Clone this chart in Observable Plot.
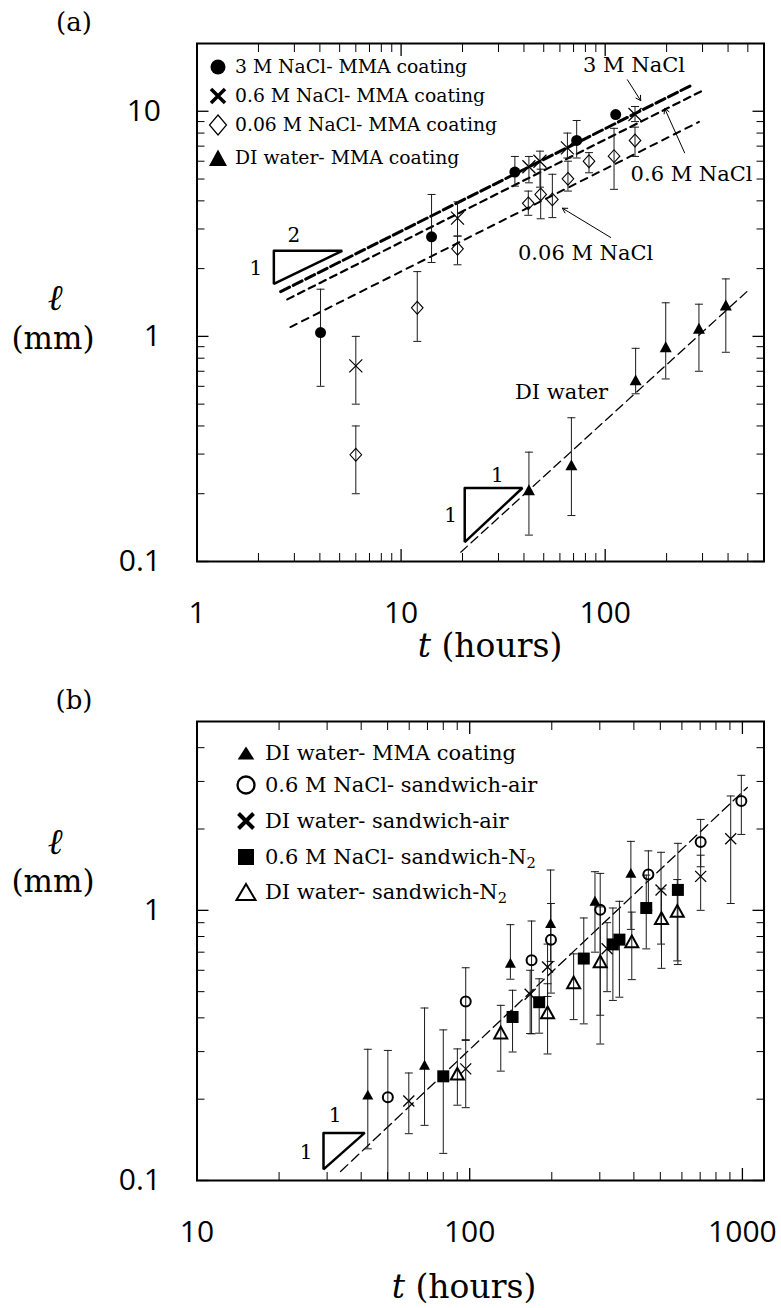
<!DOCTYPE html>
<html><head><meta charset="utf-8">
<script src="https://cdn.jsdelivr.net/npm/d3@7"></script>
<script src="https://cdn.jsdelivr.net/npm/@observablehq/plot@0.6"></script>
<style>
body{margin:0;background:#fff;}
#wrap{position:relative;width:781px;height:1308px;overflow:hidden;background:#fff;}
.abs{position:absolute;white-space:nowrap;color:#000;font-family:"DejaVu Serif",serif;}
.ctr{transform:translate(-50%,-50%);}
.row{position:absolute;height:30px;line-height:30px;white-space:nowrap;font-family:"DejaVu Serif",serif;color:#000;}
.row sub{font-size:70%;vertical-align:-0.25em;line-height:0;}
.icon{position:absolute;}
</style></head><body><div id="wrap"></div>
<script>
// ================= DATA =================
// Panel (a): t (hours) and l (mm), with error bar ends
const aNaCl3_t  = [4.03, 14.1, 36.1, 72.5, 112.6];
const aNaCl3_l  = [1.04, 2.77, 5.37, 7.42, 9.67];
const aNaCl3_lo = [0.60, 2.13, 4.65, 6.2, null];
const aNaCl3_hi = [1.62, 4.27, 6.3, 9.1, null];

const aNaCl06_t  = [6.0, 18.9, 42.3, 47.9, 65.3, 140];
const aNaCl06_l  = [0.74, 3.35, 5.67, 6.0, 6.88, 9.67];
const aNaCl06_lo = [0.50, 2.79, 4.81, 4.6, 6.2, 9.0];
const aNaCl06_hi = [1.00, 3.96, 6.3, 6.65, 8.0, 10.5];

const aNaCl006_t  = [6.0, 12.0, 18.9, 42.0, 48.3, 55.1, 65.7, 83.3, 110.5, 140];
const aNaCl006_l  = [0.298, 1.34, 2.45, 3.90, 4.27, 4.06, 5.01, 6.0, 6.32, 7.42];
const aNaCl006_lo = [0.20, 0.95, 2.08, 3.45, 3.33, 3.37, 4.42, 5.33, 4.5, 6.3];
const aNaCl006_hi = [0.40, 1.94, 2.79, 4.42, 5.53, 5.25, 6.0, 6.55, 8.4, 8.5];

// DI water - MMA coating (shown in both panels)
const diMMA_t  = [42.3, 68.3, 141, 198, 288, 390];
const diMMA_l  = [0.207, 0.267, 0.637, 0.894, 1.08, 1.37];
const diMMA_lo = [0.131, 0.16, 0.556, 0.647, 0.70, 0.85];
const diMMA_hi = [0.306, 0.435, 0.885, 1.41, 1.39, 1.80];

// fitted power-law lines (end points)
const fitA3_t = [2.57, 267],  fitA3_l = [1.58, 13.1];
const fitA06_t = [2.77, 300], fitA06_l = [1.46, 12.35];
const fitA006_t = [2.87, 288], fitA006_l = [1.10, 8.97];
const fitADI_t = [19.6, 498], fitADI_l = [0.110, 1.59];

// slope triangles (vertices)
const triA2_t = [2.38, 5.15, 2.38, 2.38], triA2_l = [2.40, 2.40, 1.71, 2.40];
const triA1_t = [20.5, 39.3, 20.5, 20.5], triA1_l = [0.212, 0.212, 0.122, 0.212];

// Panel (b)
const bNaCl06air_t  = [50.1, 96.7, 168.6, 198.6, 301, 452, 703, 991];
const bNaCl06air_l  = [0.2035, 0.46, 0.653, 0.779, 1.006, 1.356, 1.79, 2.54];
const bNaCl06air_lo = [0.10, 0.33, 0.349, 0.494, 0.409, 1.0, 1.45, 1.91];
const bNaCl06air_hi = [0.303, 0.613, 0.913, 1.06, 1.37, 1.66, 2.17, 3.16];

const bDIair_t  = [59.8, 96.7, 166.6, 193, 319, 503, 703, 906];
const bDIair_l  = [0.197, 0.259, 0.489, 0.617, 0.721, 1.19, 1.336, 1.84];
const bDIair_lo = [0.149, 0.186, 0.35, 0.48, 0.5, 0.75, 1.0, 1.06];
const bDIair_hi = [0.25, 0.332, 0.6, 0.75, 0.9, 1.64, 1.6, 2.65];

const bNaCl06N2_t  = [80, 143.6, 179.8, 262, 335, 354, 444, 580];
const bNaCl06N2_l  = [0.243, 0.403, 0.457, 0.663, 0.748, 0.779, 1.02, 1.19];
const bNaCl06N2_lo = [0.126, 0.299, 0.351, 0.38, 0.464, 0.477, 0.72, 0.63];
const bNaCl06N2_hi = [0.361, 0.506, 0.558, 0.937, 1.02, 1.08, 1.35, 1.77];

const bDIN2_t  = [90.1, 130, 193, 240.5, 301, 393, 505, 577];
const bDIN2_l  = [0.247, 0.351, 0.417, 0.538, 0.644, 0.763, 0.93, 0.99];
const bDIN2_lo = [0.19, 0.254, 0.294, 0.394, 0.32, 0.554, 0.61, 0.65];
const bDIN2_hi = [0.307, 0.445, 0.535, 0.69, 1.03, 0.985, 1.2, 1.3];

const fitB_t = [33.6, 1042], fitB_l = [0.108, 2.85];
const triB_t = [29.1, 41.2, 29.1, 29.1], triB_l = [0.150, 0.150, 0.110, 0.150];

// axes
const aXdomain = [1, 600], aYdomain = [0.1, 20];
const bXdomain = [10, 1200], bYdomain = [0.1, 5];
const aXmajor = [1, 10, 100], aXminor = [2,3,4,5,6,7,8,9,20,30,40,50,60,70,80,90,200,300,400,500];
const aYmajor = [0.1, 1, 10], aYminor = [0.2,0.3,0.4,0.5,0.6,0.7,0.8,0.9,2,3,4,5,6,7,8,9];
const bXmajor = [10, 100, 1000], bXminor = [20,30,40,50,60,70,80,90,200,300,400,500,600,700,800,900];
const bYmajor = [0.1, 1], bYminor = [0.2,0.3,0.4,0.5,0.6,0.7,0.8,0.9,2,3,4];

// texts
const legendA = ["3 M NaCl- MMA coating", "0.6 M NaCl- MMA coating", "0.06 M NaCl- MMA coating", "DI water- MMA coating"];
const legendB = ["DI water- MMA coating", "0.6 M NaCl- sandwich-air", "DI water- sandwich-air", "0.6 M NaCl- sandwich-N<sub>2</sub>", "DI water- sandwich-N<sub>2</sub>"];
const annA_text = ["3 M NaCl", "0.6 M NaCl", "0.06 M NaCl", "DI water"];
const annA_t = [138.4, 265, 80.2, 61.1];
const annA_l = [16.0, 5.24, 2.34, 0.565];
const arrA_t1 = [128.5, 245, 106.4], arrA_l1 = [13.8, 6.54, 2.75];
const arrA_t2 = [149.3, 195.7, 61.7], arrA_l2 = [11.15, 10.28, 3.71];
const slopeA_text = ["2", "1", "1", "1"];
const slopeA_t = [2.98, 1.94, 29.6, 17.5];
const slopeA_l = [2.79, 2.01, 0.241, 0.16];
const slopeB_text = ["1", "1"];
const slopeB_t = [32.1, 25.1];
const slopeB_l = [0.174, 0.127];

// ================= HELPERS =================
const rows = (t, l, lo, hi) => t.map((d, i) => ({t: d, l: l[i], lo: lo ? lo[i] : null, hi: hi ? hi[i] : null}));
const pts = (t, l) => t.map((d, i) => ({t: d, l: l[i]}));
const sym = (fn) => ({draw(c, size) { fn(c, Math.sqrt(size / Math.PI)); }});
const xSym = sym((c, r) => { c.moveTo(-r, -r); c.lineTo(r, r); c.moveTo(-r, r); c.lineTo(r, -r); });
const diamondSym = sym((c, r) => { c.moveTo(0, -r * 1.1); c.lineTo(r, 0); c.lineTo(0, r * 1.1); c.lineTo(-r, 0); c.closePath(); });
const triSym = sym((c, r) => { c.moveTo(0, -r); c.lineTo(r, 0.8 * r); c.lineTo(-r, 0.8 * r); c.closePath(); });
const squareSym = sym((c, r) => { c.rect(-r, -r, 2 * r, 2 * r); });
const capSym = sym((c, r) => { c.moveTo(-r, 0); c.lineTo(r, 0); });

function errMarks(data) {
  const d = data.filter(r => r.lo != null);
  return [
    Plot.ruleX(d, {x: "t", y1: "lo", y2: "hi", stroke: "#1a1a1a", strokeWidth: 1}),
    Plot.dot(d, {x: "t", y: "lo", symbol: capSym, r: 4, stroke: "#1a1a1a", strokeWidth: 1, fill: "none"}),
    Plot.dot(d, {x: "t", y: "hi", symbol: capSym, r: 4, stroke: "#1a1a1a", strokeWidth: 1, fill: "none"})
  ];
}
function frameTicks(xMaj, xMin, yMaj, yMin) {
  const o = {fill: "none", stroke: "black", label: null};
  return [
    Plot.axisX(xMaj, {...o, anchor: "bottom", tickSize: 12, dy: -12, strokeWidth: 1.3}),
    Plot.axisX(xMin, {...o, anchor: "bottom", tickSize: 8, dy: -8}),
    Plot.axisX(xMaj, {...o, anchor: "top", tickSize: 12, dy: 12, strokeWidth: 1.3}),
    Plot.axisX(xMin, {...o, anchor: "top", tickSize: 8, dy: 8}),
    Plot.axisY(yMaj, {...o, anchor: "left", tickSize: 12, dx: 12, strokeWidth: 1.3}),
    Plot.axisY(yMin, {...o, anchor: "left", tickSize: 8, dx: 8}),
    Plot.axisY(yMaj, {...o, anchor: "right", tickSize: 12, dx: -12, strokeWidth: 1.3}),
    Plot.axisY(yMin, {...o, anchor: "right", tickSize: 8, dx: -8}),
    Plot.axisX(xMaj, {anchor: "bottom", tickSize: 0, tickPadding: 40, fontSize: 30, fontFamily: "Open Sans", tickFormat: d => String(d), label: null, fill: "black"}),
    Plot.axisY(yMaj, {anchor: "left", tickSize: 0, tickPadding: 36, fontSize: 30, fontFamily: "Open Sans", tickFormat: d => String(d), label: null, fill: "black"}),
    Plot.frame({stroke: "black", strokeWidth: 2})
  ];
}

const wrap = document.getElementById("wrap");
function addDiv(html, css, cls) {
  const d = document.createElement("div");
  d.className = cls || "abs";
  d.innerHTML = html;
  Object.assign(d.style, css);
  wrap.appendChild(d);
  return d;
}
function addIcon(inner, cx, cy) {
  const ns = "http://www.w3.org/2000/svg";
  const s = document.createElementNS(ns, "svg");
  s.setAttribute("width", "24"); s.setAttribute("height", "24");
  s.setAttribute("class", "icon");
  s.style.left = (cx - 12) + "px"; s.style.top = (cy - 12) + "px";
  s.innerHTML = inner;
  wrap.appendChild(s);
}

// ================= PANEL (a) =================
const A3 = rows(aNaCl3_t, aNaCl3_l, aNaCl3_lo, aNaCl3_hi);
const A06 = rows(aNaCl06_t, aNaCl06_l, aNaCl06_lo, aNaCl06_hi);
const A006 = rows(aNaCl006_t, aNaCl006_l, aNaCl006_lo, aNaCl006_hi);
const ADI = rows(diMMA_t, diMMA_l, diMMA_lo, diMMA_hi);
const annA = annA_text.map((s, i) => ({s, t: annA_t[i], l: annA_l[i]}));
const arrA = arrA_t1.map((d, i) => ({t1: d, l1: arrA_l1[i], t2: arrA_t2[i], l2: arrA_l2[i]}));
const slopeA = slopeA_text.map((s, i) => ({s, t: slopeA_t[i], l: slopeA_l[i]}));

const plotA = Plot.plot({
  width: 781, height: 670,
  marginTop: 43, marginBottom: 109, marginLeft: 196.5, marginRight: 17.5,
  x: {type: "log", domain: aXdomain, axis: null},
  y: {type: "log", domain: aYdomain, axis: null},
  style: {background: "transparent", overflow: "visible"},
  marks: [
    Plot.line(pts(fitA3_t, fitA3_l), {x: "t", y: "l", stroke: "black", strokeWidth: 3, strokeDasharray: "10,4"}),
    Plot.line(pts(fitA06_t, fitA06_l), {x: "t", y: "l", stroke: "black", strokeWidth: 2.2, strokeDasharray: "7,5"}),
    Plot.line(pts(fitA006_t, fitA006_l), {x: "t", y: "l", stroke: "black", strokeWidth: 2, strokeDasharray: "7,6"}),
    Plot.line(pts(fitADI_t, fitADI_l), {x: "t", y: "l", stroke: "black", strokeWidth: 1.3, strokeDasharray: "9,5"}),
    Plot.line(pts(triA2_t, triA2_l), {x: "t", y: "l", stroke: "black", strokeWidth: 2.5, strokeLinejoin: "miter"}),
    Plot.line(pts(triA1_t, triA1_l), {x: "t", y: "l", stroke: "black", strokeWidth: 2.5, strokeLinejoin: "miter"}),
    ...errMarks(A3), ...errMarks(A06), ...errMarks(A006), ...errMarks(ADI),
    Plot.dot(A3, {x: "t", y: "l", symbol: "circle", r: 5.5, fill: "black", stroke: "none"}),
    Plot.dot(A06, {x: "t", y: "l", symbol: xSym, r: 6.5, fill: "none", stroke: "black", strokeWidth: 1.2}),
    Plot.dot(A006, {x: "t", y: "l", symbol: diamondSym, r: 5.8, fill: "none", stroke: "black", strokeWidth: 1.1}),
    Plot.dot(ADI, {x: "t", y: "l", symbol: triSym, r: 6, fill: "black", stroke: "none"}),
    Plot.arrow(arrA, {x1: "t1", y1: "l1", x2: "t2", y2: "l2", stroke: "black", strokeWidth: 1, headLength: 8}),
    Plot.text(annA, {x: "t", y: "l", text: "s", fontFamily: "DejaVu Serif", fontSize: 21, fill: "black"}),
    Plot.text(slopeA, {x: "t", y: "l", text: "s", fontFamily: "DejaVu Serif", fontSize: 20, fill: "black"}),
    ...frameTicks(aXmajor, aXminor, aYmajor, aYminor)
  ]
});
plotA.style.position = "absolute";
plotA.style.left = "0px";
plotA.style.top = "0px";
wrap.appendChild(plotA);

// ================= PANEL (b) =================
const BDI = rows(diMMA_t, diMMA_l, diMMA_lo, diMMA_hi);
const Bair06 = rows(bNaCl06air_t, bNaCl06air_l, bNaCl06air_lo, bNaCl06air_hi);
const BairDI = rows(bDIair_t, bDIair_l, bDIair_lo, bDIair_hi);
const BN206 = rows(bNaCl06N2_t, bNaCl06N2_l, bNaCl06N2_lo, bNaCl06N2_hi);
const BN2DI = rows(bDIN2_t, bDIN2_l, bDIN2_lo, bDIN2_hi);
const slopeB = slopeB_text.map((s, i) => ({s, t: slopeB_t[i], l: slopeB_l[i]}));

const plotB = Plot.plot({
  width: 781, height: 638,
  marginTop: 51, marginBottom: 128, marginLeft: 196.5, marginRight: 17.5,
  x: {type: "log", domain: bXdomain, axis: null},
  y: {type: "log", domain: bYdomain, axis: null},
  style: {background: "transparent", overflow: "visible"},
  marks: [
    Plot.line(pts(fitB_t, fitB_l), {x: "t", y: "l", stroke: "black", strokeWidth: 1.3, strokeDasharray: "10,5"}),
    Plot.line(pts(triB_t, triB_l), {x: "t", y: "l", stroke: "black", strokeWidth: 2.5, strokeLinejoin: "miter"}),
    ...errMarks(BDI), ...errMarks(Bair06), ...errMarks(BairDI), ...errMarks(BN206), ...errMarks(BN2DI),
    Plot.dot(BDI, {x: "t", y: "l", symbol: triSym, r: 5.5, fill: "black", stroke: "none"}),
    Plot.dot(Bair06, {x: "t", y: "l", symbol: "circle", r: 5, fill: "none", stroke: "black", strokeWidth: 2}),
    Plot.dot(BairDI, {x: "t", y: "l", symbol: xSym, r: 5.5, fill: "none", stroke: "black", strokeWidth: 1.3}),
    Plot.dot(BN206, {x: "t", y: "l", symbol: squareSym, r: 6, fill: "black", stroke: "none"}),
    Plot.dot(BN2DI, {x: "t", y: "l", symbol: triSym, r: 6.5, fill: "none", stroke: "black", strokeWidth: 2}),
    Plot.text(slopeB, {x: "t", y: "l", text: "s", fontFamily: "DejaVu Serif", fontSize: 20, fill: "black"}),
    ...frameTicks(bXmajor, bXminor, bYmajor, bYminor)
  ]
});
plotB.style.position = "absolute";
plotB.style.left = "0px";
plotB.style.top = "670px";
wrap.appendChild(plotB);

// ================= LEGENDS (HTML) =================
const iconsA = [
  '<circle cx="12" cy="12" r="7.5" fill="black"/>',
  '<path d="M5 5L19 19M5 19L19 5" stroke="black" stroke-width="3.5"/>',
  '<path d="M12 2L20.5 12L12 22L3.5 12Z" fill="none" stroke="black" stroke-width="1.2"/>',
  '<path d="M12 3.5L21 20L3 20Z" fill="black"/>'
];
const rowYA = [67, 96, 125, 158];
legendA.forEach((txt, i) => {
  addIcon(iconsA[i], 218, rowYA[i]);
  addDiv(`<span>${txt}</span>`, {left: "235px", top: (rowYA[i] - 15) + "px", fontSize: "18.8px"}, "row");
});
const iconsB = [
  '<path d="M12 5.5L20.3 18.5L3.7 18.5Z" fill="black"/>',
  '<circle cx="12" cy="12" r="8.5" fill="none" stroke="black" stroke-width="2.3"/>',
  '<path d="M4.5 4.5L19.5 19.5M4.5 19.5L19.5 4.5" stroke="black" stroke-width="4"/>',
  '<rect x="4" y="4" width="16" height="16" fill="black"/>',
  '<path d="M12 4L21.5 20L2.5 20Z" fill="none" stroke="black" stroke-width="2"/>'
];
const rowYB = [753, 785, 821, 857, 892];
legendB.forEach((txt, i) => {
  addIcon(iconsB[i], 246, rowYB[i]);
  addDiv(`<span>${txt}</span>`, {left: "265px", top: (rowYB[i] - 15) + "px", fontSize: "21px"}, "row");
});

// ================= AXIS TITLES & PANEL LABELS =================
addDiv("(a)", {left: "74px", top: "22px", fontSize: "26px"}, "abs ctr");
addDiv("(b)", {left: "74px", top: "700px", fontSize: "26px"}, "abs ctr");
addDiv('<i>t</i> (hours)', {left: "490px", top: "645px", fontSize: "33px"}, "abs ctr");
addDiv('<i>t</i> (hours)', {left: "464px", top: "1286px", fontSize: "33px"}, "abs ctr");
addDiv('<i>ℓ</i>', {left: "55px", top: "298px", fontSize: "36px"}, "abs ctr");
addDiv('(mm)', {left: "53px", top: "338px", fontSize: "31px"}, "abs ctr");
addDiv('<i>ℓ</i>', {left: "55px", top: "842px", fontSize: "36px"}, "abs ctr");
addDiv('(mm)', {left: "53px", top: "881px", fontSize: "31px"}, "abs ctr");
</script></body></html>
